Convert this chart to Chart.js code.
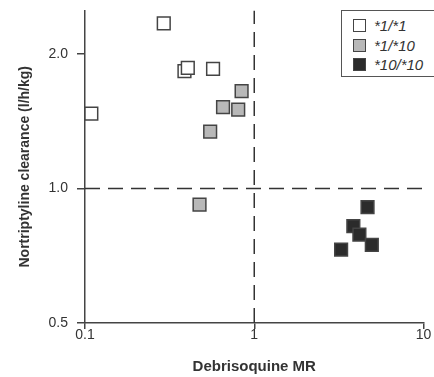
<!DOCTYPE html>
<html>
<head>
<meta charset="utf-8">
<script src="https://cdn.jsdelivr.net/npm/chart.js@4/dist/chart.umd.min.js"></script>
<style>
  html, body { margin: 0; padding: 0; background: #fff; overflow: hidden; }
  #wrap { position: relative; width: 434px; height: 377px; overflow: hidden; }
  #legend {
    position: absolute; left: 341px; top: 10px; width: 110px; height: 67px;
    border: 1.5px solid #555; background: #fff; box-sizing: border-box;
    font: italic 15px "Liberation Sans", Arial, sans-serif; color: #333;
    padding-top: 5px;
  }
  #legend .row { display: flex; align-items: center; height: 19.5px; }
  #legend .sw { width: 11px; height: 11px; margin-left: 11px; margin-right: 8px; border: 1px solid #444; }
</style>
</head>
<body>
<div id="wrap">
  <canvas id="chart" width="434" height="377"></canvas>
  <div id="legend"></div>
</div>
<script>
// ===== data =====
const genotypes = ["*1/*1", "*1/*10", "*10/*10"];
const genotypeFills = ["#ffffff", "#b8b8b8", "#2b2b2b"];

// debrisoquine metabolic ratio (x) and nortriptyline clearance (y)
const mrWt = [0.109, 0.292, 0.387, 0.405, 0.571];
const clWt = [1.47, 2.34, 1.83, 1.86, 1.85];
const mrHet = [0.842, 0.654, 0.804, 0.549, 0.475];
const clHet = [1.65, 1.52, 1.50, 1.34, 0.92];
const mrHom = [4.67, 3.85, 4.18, 4.95, 3.26];
const clHom = [0.908, 0.823, 0.788, 0.748, 0.730];

const xTicks = [0.1, 1, 10];
const xTickLabels = ["0.1", "1", "10"];
const yTicks = [0.5, 1, 2];
const yTickLabels = ["0.5", "1.0", "2.0"];

const mrCutoff = 1;
const clCutoff = 1;

const FONT = "'Liberation Sans', Arial, sans-serif";
const INK = "#333";

function toPoints(xs, ys) {
  return xs.map((x, i) => ({ x, y: ys[i] }));
}

function pointSet(label, xs, ys, fill) {
  return {
    label,
    data: toPoints(xs, ys),
    pointStyle: "rect",
    pointRadius: 9,
    pointHoverRadius: 9,
    backgroundColor: fill,
    borderColor: "#444",
    borderWidth: 1.5,
    showLine: false
  };
}

function dashed(data) {
  return {
    label: "",
    data,
    showLine: true,
    pointRadius: 0,
    borderColor: "#333",
    borderWidth: 1.5,
    borderDash: [15, 8],
    fill: false
  };
}

const datasets = [
  pointSet(genotypes[0], mrWt, clWt, genotypeFills[0]),
  pointSet(genotypes[1], mrHet, clHet, genotypeFills[1]),
  pointSet(genotypes[2], mrHom, clHom, genotypeFills[2]),
  dashed([{ x: mrCutoff, y: 0.5 }, { x: mrCutoff, y: 2.5 }]),
  dashed([{ x: 0.1, y: clCutoff }, { x: 10, y: clCutoff }])
];

new Chart(document.getElementById("chart"), {
  type: "scatter",
  data: { datasets },
  options: {
    responsive: false,
    animation: false,
    devicePixelRatio: 1,
    layout: { padding: { left: 0, top: 8, right: 5, bottom: 0 } },
    plugins: { legend: { display: false }, tooltip: { enabled: false } },
    scales: {
      x: {
        type: "logarithmic",
        min: 0.1,
        max: 10,
        afterBuildTicks: s => { s.ticks = xTicks.map(v => ({ value: v })); },
        afterFit: s => { s.height = 54; s.paddingLeft = 0; s.paddingRight = 0; },
        ticks: {
          autoSkip: false,
          maxRotation: 0,
          padding: -2,
          color: INK,
          font: { family: FONT, size: 14 },
          callback: (v) => xTickLabels[xTicks.indexOf(v)]
        },
        grid: { display: true, drawOnChartArea: false, drawTicks: true, tickLength: 6, color: "#444", lineWidth: 1.5 },
        border: { color: "#444", width: 1.5 },
        title: {
          display: true,
          text: "Debrisoquine MR",
          color: INK,
          font: { family: FONT, size: 15, weight: "bold" },
          padding: { top: 0, bottom: 1 }
        }
      },
      y: {
        type: "logarithmic",
        min: 0.5,
        max: 2.5,
        afterBuildTicks: s => { s.ticks = yTicks.map(v => ({ value: v })); },
        afterFit: s => { s.width = 85; s.paddingTop = 0; s.paddingBottom = 0; },
        ticks: {
          autoSkip: false,
          padding: 9,
          color: INK,
          font: { family: FONT, size: 14 },
          callback: (v) => yTickLabels[yTicks.indexOf(v)]
        },
        grid: { display: true, drawOnChartArea: false, drawTicks: true, tickLength: 8, color: "#444", lineWidth: 1.5 },
        border: { color: "#444", width: 1.5 },
        title: {
          display: true,
          text: "Nortriptyline clearance (l/h/kg)",
          color: INK,
          font: { family: FONT, size: 14, weight: "bold" },
          padding: { top: 17, bottom: 0 }
        }
      }
    }
  }
});

// legend box, built from the series names and fills
const legendEl = document.getElementById("legend");
genotypes.forEach((g, i) => {
  const row = document.createElement("div");
  row.className = "row";
  const sw = document.createElement("span");
  sw.className = "sw";
  sw.style.background = genotypeFills[i];
  const txt = document.createElement("span");
  txt.textContent = g;
  row.appendChild(sw);
  row.appendChild(txt);
  legendEl.appendChild(row);
});
</script>
</body>
</html>
